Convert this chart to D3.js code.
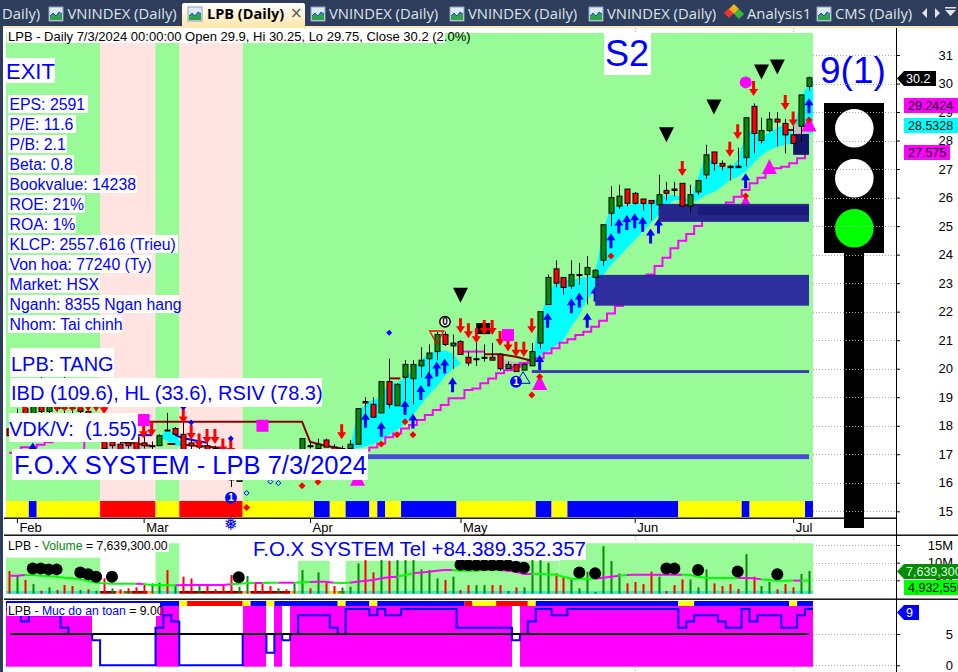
<!DOCTYPE html>
<html><head><meta charset="utf-8">
<style>html,body{margin:0;padding:0;background:#fff;overflow:hidden}svg{display:block}text{font-family:"Liberation Sans",Arial,sans-serif;white-space:pre}</style>
<script src="https://cdn.jsdelivr.net/npm/d3@7"></script>
</head><body><svg id="c" width="958" height="672"></svg>
<script>
// ---------- data (oldest bar first) ----------
const candles=[[17.89,18.2,17.6,17.65],[18,18.6,17.9,18.4],[18.6,18.9,18.3,18.4],[18.4,18.8,18.1,18.7],[18.7,19.7,18.4,18.5],[18.5,19,18.3,18.9],[18.9,19.2,18.5,18.6],[18.6,19.7,18.4,19],[19,19.2,18.4,18.6],[18.6,18.9,18.3,18.5],[18.5,18.7,18.1,18.2],[18.2,18.4,17.8,18],[18,18.2,17.1,17.2],[17.7,17.8,17.2,17.3],[17.35,17.5,17.1,17.15],[17.4,17.5,17.2,17.3],[17.6,17.7,17.1,17.15],[17.4,17.8,17.2,17.3],[17.3,17.45,17.1,17.3],[17.3,17.7,17.3,17.65],[17.85,18.45,17.85,17.85],[17.9,17.95,17.65,17.7],[17.7,18.5,17,17.15],[17.4,17.5,17.1,17.3],[17.3,17.7,17,17.25],[17.3,17.4,16.9,17.1],[17.2,17.3,16.9,17.1],[17.1,17.2,16.8,16.9],[17.15,17.15,15.85,16.1],[16.05,16.4,16.05,16.3],[16.3,16.6,16.2,16.5],[16.5,16.7,16.4,16.6],[16.6,16.8,16.5,16.7],[16.8,16.9,16.6,16.65],[16.6,16.9,16.5,16.85],[16.8,17,16.7,16.95],[16.95,17.1,16.8,17.05],[17.15,17.55,17.1,17.55],[17.3,17.45,17.2,17.3],[17.2,17.55,17.2,17.35],[17.5,17.55,17.25,17.25],[17.25,17.35,17.1,17.15],[17.2,17.3,17.1,17.15],[17.2,17.5,17.2,17.35],[17.35,18.6,17.35,18.6],[18.85,19,18.35,18.8],[18.75,19,18.3,18.3],[18.45,19.55,18.45,19.55],[19.55,20.35,18.6,18.75],[18.7,19.5,18.7,19.45],[19.7,20.3,18.9,20.15],[19.65,20.3,18.75,20.15],[20.1,20.75,19.7,20.3],[20.35,20.85,19.8,20.55],[20.6,21.3,20.3,21.2],[21.2,21.3,20.8,20.85],[20.8,21.2,20,20.9],[20.95,21,20.5,20.5],[20.4,20.6,20.1,20.2],[20.35,20.9,20.1,20.35],[20.4,20.85,20.25,20.4],[20.4,20.9,20.3,20.3],[20.5,20.55,19.93,20],[20,20.25,20,20.15],[20.15,20.15,19.9,19.9],[19.95,20.2,19.95,20.15],[20.1,20.9,20.1,20.6],[20.9,22,20.7,22],[22.25,23.3,22.25,23.2],[23.5,23.8,22.85,23],[23.2,23.2,22.6,22.85],[22.9,23.8,22.8,23.3],[23.3,23.7,22.95,23.3],[23.3,23.95,22.25,23.55],[23.2,23.5,23.2,23.45],[23.8,25.05,23.6,25.05],[25.45,26.4,25,26],[25.7,26.45,25.6,26.05],[26.3,26.3,25.7,25.8],[26.15,26.2,25.75,25.8],[25.95,25.95,25.55,25.8],[25.9,25.9,25.2,25.8],[25.75,26.8,25.6,26.1],[26.25,26.55,25.9,26.15],[26.3,26.55,26.05,26.25],[26.5,26.5,25.7,25.7],[25.7,26.45,25.45,26.1],[26.2,26.6,26.1,26.6],[26.8,27.85,26.65,27.5],[27.6,27.6,26.95,27.2],[27.2,27.3,26.95,27.1],[27.1,27.15,26.6,27.05],[27.1,27.75,27.05,27.05],[27.4,28.8,27.1,28.8],[29.2,29.3,27.55,28.25],[28,28.8,27.9,28.35],[28.35,29,28.3,28.75],[28.75,29,27.8,28.65],[28.6,28.75,27.55,28.2],[28.2,28.5,27.9,27.9],[28.5,29.6,27.95,29.6],[29.9,30.25,29.75,30.2]];
const stopLine=[17.05,17.05,17.25,17.25,17.33,17.42,17.7,17.7,17.7,17.7,17.1,17,17,16.9,16.9,16.8,16.8,16.7,16.7,16.6,16.6,16.5,16.5,16.5,16.5,16.5,16.5,16.5,16.5,16.5,16.5,16.5,16.5,16.6,16.6,16.6,16.7,16.7,16.7,16.8,16.8,16.8,16.9,16.9,17,17.13,17.24,17.38,17.6,17.73,17.9,18.03,18.2,18.38,18.55,18.73,18.96,18.96,19.25,19.31,19.49,19.66,19.84,19.95,20.07,20.2,20.28,20.37,20.54,20.72,20.91,21.03,21.18,21.3,21.47,21.68,21.94,22.2,22.58,22.82,23.05,23.3,23.6,23.89,24.22,24.49,24.72,25,25.33,25.5,25.68,25.83,26.03,26.27,26.5,26.7,26.97,27.03,27.08,27.2,27.38,27.6];
const cyanBand=[[19,17.62,17.62],[20,17.85,17.45],[21,17.73,17.32],[22,17.27,17.27],null,[43,17.2,17.18],[44,18.43,17.2],[45,18.78,17.27],[46,18.9,17.36],[47,19.02,17.5],[48,19.55,17.68],[49,19.49,17.85],[50,19.72,18.08],[51,19.95,18.38],[52,20.3,18.73],[53,20.54,19.08],[54,20.6,19.37],[55,20.65,19.72],[56,20.54,20],[57,20.18,20.16],null,[66,20.3,20.3],[67,21.7,20.45],[68,22.64,20.6],[69,23.05,20.8],[70,23.11,21],[71,23.1,21.47],[72,23.17,21.88],[73,23.23,22.41],[74,23.29,22.76],[75,24.86,23.28],[76,25.68,23.64],[77,25.74,23.93],[78,25.74,24.22],[79,25.78,24.51],[80,25.78,24.8],[81,25.8,25.1],[82,25.97,25.39],[83,26.09,25.68],[84,26.09,25.92],[85,26.03,25.92],[86,25.92,25.8],[87,26.73,25.92],[88,27.49,26.09],[89,27.2,26.2],[90,27.08,26.38],[91,27.03,26.62],[92,27.32,26.73],[93,28.25,26.91],[94,28.37,27.2],[95,28.08,27.49],[96,28.31,27.67],[97,28.43,27.79],[98,28.58,27.84],[99,28.25,27.9],[100,29.54,28.14],[101,30,28.25],[101.5,30.1,28.25]];
const grayBand=[[12,17.4,17.15],[14,17.37,17.15],[16,17.35,17.15],[18,17.3,17.2],null,[62,20.35,20.05],[63,20.3,20],[64,20.25,19.95],[65,20.2,20.1],[66,20.2,20.2],null,[99,28.55,28.2],[100.9,28.6,28.2]];
const darkRedSegs=[[[17,18.14],[37,18.14],[38,17.44],[39,17.36],[40,17.3],[42,17.2]],[[14,17.42],[16,17.38],[18,17.29]],[[20,17.36],[21,17.36]],[[22,17.33],[26,17.25],[27,17.2]],[[48,19.66],[49.4,19.66]],[[60,20.51],[62,20.51],[64,20.42],[66,20.28]],[[98,28.37],[99,28.37]]];
const blueSegs=[[[16,17.67],[18,17.67]],[[21,17.67],[22,17.56],[25,17.4]]];
const magentaSegs=[[[57,20.6],[60,20.6]]];
const upArrows=[[68,21.96],[71,22.47],[72,22.67],[73,21.96],[74,22.88],[76,24.75],[77,25.27],[78,25.39],[79,25.45],[80,25.33],[81,24.92],[82,25.27],[93,26.85],[101,29.48],[67,20.48],[45,18.46],[47,18.14],[50,18.9],[51,18.43],[52,19.43],[53,19.9],[54,20.25],[55,20.36],[56,19.7],[3,17.41]];
const downArrows=[[66,21.24],[94,29.56],[98,29.07],[99,28.49],[92,28.05],[91,27.43],[85,26.76],[57,21.24],[58,21.07],[59,20.89],[60,21.18],[61,21.18],[62,20.8],[63,20.6],[64,20.42],[65,20.42],[42,17.53],[17,17.56],[18,17.62],[22,18.08],[23,17.5],[24,17.2],[25,17.36],[26,17.36],[27,17.03],[28,16.97],[2,18.49],[6,18.49],[7,18.49],[8,18.49],[9,18.49],[10,18.49],[11,18.49],[12,18.4]];
const redDiamonds=[[76,23.95],[93,26.06],[101,28.72],[67,19.72],[66,19.08],[37,15.9],[39,16.03],[30,15.13],[47,17.36],[49,17.68],[50,18.14],[51,17.68]];
const blueDiamonds=[[48,21.26],[23,18.11],[28,17.55],[22,18.65]];
const hollowDiamonds=[[30,15.64],[33,16.04],[34,15.99]];
const blackTriangles=[[57,22.58],[83,28.2],[89,29.18],[95,30.4],[97,30.58]];
const magentaTriangles=[[96,27.35],[101,28.84],[93,26.09],[67,19.78],[44,16.42]];
const magentaSquares=[[17,18.2],[32,18],[63,21.18]];
const magentaDots=[[93,30.04]];
const zones=[[74,101,23.29,22.21,"#2e2e9e"],[82,101,25.78,25.15,"#26268c"],[87,101,25.7,25.38,"#1a1a7a"],[99,101,28.23,27.5,"#15156b"],[66,101,19.95,19.85,"#3a3ab5"],[45,101,17,16.83,"#4a4ad8"]];
const stripRuns=[[0,3,"y"],[3,4,"b"],[4,12,"y"],[12,19,"r"],[19,22,"y"],[22,30,"r"],[30,39,"y"],[39,41,"b"],[41,43,"y"],[43,46,"b"],[46,47,"y"],[47,48,"b"],[48,50,"y"],[50,57,"b"],[57,67,"y"],[67,69,"b"],[69,71,"y"],[71,85,"b"],[85,93,"y"],[93,94,"b"],[94,101,"y"],[101,102,"b"]];
const pinkRuns=[[12,19],[22,30]];
const monthTicks=[[1,"Feb"],[17,"Mar"],[38,"Apr"],[57,"May"],[79,"Jun"],[99,"Jul"]];
const priceTicks=[15,16,17,18,19,20,21,22,23,24,25,26,27,28,29,30,31];
const volumes=[7.63,6.5,5.09,3.95,2.07,3.01,2.26,3.67,3.39,2.26,2.45,2.07,5.56,2.73,2.45,2.73,3.01,3.67,4.14,4.33,7.91,3.39,6.03,5.56,3.48,3.67,2.45,3.86,6.5,3.2,6.2,4.14,3.95,3.39,2.73,2.45,4.14,7.91,2.73,7.25,4.33,3.39,3.01,3.2,9.79,10.74,7.25,10.74,10.55,10.74,10.74,10.74,8.1,7.91,5.56,5.09,6.03,2.26,3.67,3.67,3.67,3.67,3.67,1.98,3.01,3.01,10.74,10.74,9.98,6.97,5.84,5.27,2.73,7.44,1.69,14.69,10.45,6.97,4.14,4.52,3.95,7.44,6.03,1.98,3.67,5.27,5.27,3.01,8.1,4.14,3.39,3.95,2.54,12.43,6.03,3.39,4.6,2.45,3.95,3.01,6.78,7.64];
const volDirs="rgrgrgrrrgrgrgrrrrggrgrrgrrrrggrrrgrggrgrrgggrrgrggggggrgrrg"+"grrgrggggrrgggggggrrrrgrrrgggrrrrgrggrrrgg";
const volMA=[6.31,6.31,6.5,6.5,6.31,6.2,6.03,5.74,5.56,5.27,4.9,4.33,4.14,4.05,4.05,4.05,4.05,3.95,3.67,3.67,3.58,3.58,3.67,3.67,3.67,3.67,3.67,3.67,3.86,4.05,4.14,4.24,4.24,4.33,4.33,4.33,4.33,4.43,4.5,4.6,4.6,4.33,4.24,4.33,4.6,4.9,5.09,5.56,5.84,6.03,6.5,6.97,7.25,7.44,7.72,7.91,7.91,7.72,7.72,7.72,7.91,7.91,7.91,7.72,7.44,6.78,6.78,6.78,6.69,6.59,6.03,5.46,5.46,5.46,5.46,5.74,6.03,6.31,6.5,6.59,6.59,6.59,6.59,6.59,6.59,6.59,6.5,6.03,5.74,5.65,5.65,5.65,5.65,5.65,5.56,5.27,5.09,4.9,4.9,4.93,4.93,4.93];
const volMARuns=[[0,2,"m"],[2,16,"g"],[16,17,"m"],[17,21,"g"],[21,28,"m"],[28,31,"g"],[31,32,"m"],[32,34,"g"],[34,36,"m"],[36,38,"g"],[38,41,"m"],[41,43,"g"],[43,49,"m"],[49,51,"g"],[51,56,"m"],[56,62,"g"],[62,66,"m"],[66,74,"g"],[74,77,"m"],[77,78,"g"],[78,85,"m"],[85,92,"g"],[92,95,"m"],[95,99,"g"],[99,100,"m"],[100,101,"g"]];
const volDots=[[3,8.38],[4,8.38],[5,8.1],[6,8.1],[9,7.25],[10,6.7],[11,6.03],[13,6.03],[29,5.84],[57,9.4],[58,9.3],[59,9.3],[60,9.3],[61,9.3],[62,9.3],[63,9.3],[64,8.85],[65,8.57],[72,7.25],[74,6.97],[83,8.38],[84,8.38],[87,7.9],[92,7.53],[97,6.7]];
const volBgRuns=[[0,12,11.4],[19,22,15.5],[37,41,10.5],[43,70,10.5],[70,102,15.5]];
const volStripRuns=[[0,12,"#40e0d0"],[12,14,"#8b0000"],[14,15,"#f4a460"],[15,16,"#228b22"],[16,18,"#8b0000"],[18,19,"#f4a460"],[19,22,"#40e0d0"],[22,30,"#8b0000"],[30,31,"#f4a460"],[31,36,"#8b0000"],[36,37,"#f4a460"],[37,41,"#40e0d0"],[41,42,"#ffd700"],[42,43,"#6b8e23"],[43,102,"#40e0d0"]];
const volTicks=[5,10,15];
const safety=[9,9,7,8,8,8,8,6,5,5,5,4,0,0,0,0,0,0,0,6,8,7,0,0,0,0,0,0,0,0,5,5,5,2,5,4,5,8,8,8,8,6,5,9,9,9,8,9,8,8,9,9,9,9,9,9,9,6,6,6,6,6,6,6,4,5,7,9,9,8,8,9,9,9,9,9,9,9,9,9,9,9,9,9,9,6,7,8,8,8,7,6,6,9,7,8,8,8,6,6,8,9];
const safetyRuns=[[0,22,"b"],[22,23,"y"],[23,30,"r"],[30,31,"y"],[31,33,"b"],[33,34,"y"],[34,42,"b"],[42,43,"y"],[43,46,"b"],[46,47,"y"],[47,58,"b"],[58,59,"r"],[59,62,"y"],[62,66,"r"],[66,67,"y"],[67,85,"b"],[85,87,"y"],[87,99,"b"],[99,100,"y"],[100,102,"b"]];
const safetyTicks=[0,5];
const statLines=["EPS: 2591","P/E: 11.6","P/B: 2.1","Beta: 0.8","Bookvalue: 14238","ROE: 21%","ROA: 1%","KLCP: 2557.616 (Trieu)","Von hoa: 77240 (Ty)","Market: HSX","Nganh: 8355 Ngan hang","Nhom: Tai chinh"];
const tabs=[[2,"Daily)"],[67.5,"VNINDEX (Daily)"],[329,"VNINDEX (Daily)"],[468,"VNINDEX (Daily)"],[607,"VNINDEX (Daily)"],[747,"Analysis1"],[835,"CMS (Daily)"]];
const tabIcons=[49,311,450,589,817];

// ---------- scales ----------
const x=d3.scaleLinear().domain([0,101]).range([9,809]);
const band=n=>x(n)-3.96;
const y=d3.scaleLinear().domain([15,31]).range([511.3,55]);
const yV=d3.scaleLinear().domain([0,15]).range([598,545]);
const yS=d3.scaleLinear().domain([0,9]).range([665.3,609]);
const svg=d3.select("#c");
const COL={y:"#ffff00",b:"#0000ff",r:"#ff0000"};
const RED="#ff0000",GRN="#078a07",BLU="#0000ff",MAG="#ff00ff";

svg.append("rect").attr("width",958).attr("height",672).attr("fill","#fff");

// ---------- main backgrounds ----------
const main=svg.append("g");
main.append("rect").attr("x",6).attr("y",33).attr("width",807).attr("height",468).attr("fill","#98fb98");
main.selectAll(null).data(pinkRuns).join("rect").attr("x",d=>band(d[0])).attr("width",d=>band(d[1])-band(d[0])).attr("y",33).attr("height",468).attr("fill","#ffe4e1");
main.selectAll(null).data(stripRuns).join("rect").attr("x",d=>Math.max(6,band(d[0]))).attr("width",d=>band(d[1])-Math.max(6,band(d[0]))).attr("y",501).attr("height",16).attr("fill",d=>COL[d[2]]);

// ---------- bands and lines ----------
const areaG=d3.area().defined(d=>d).x(d=>x(d[0])).y0(d=>y(d[2])).y1(d=>y(d[1]));
main.append("path").attr("d",areaG(cyanBand)).attr("fill","#00ffff");
main.append("path").attr("d",areaG(grayBand)).attr("fill","#c0c0c0");
const stepL=d3.line().x((d,i)=>x(i)).y(d=>y(d)).curve(d3.curveStep);
main.append("path").attr("d",stepL(stopLine)).attr("fill","none").attr("stroke",MAG).attr("stroke-width",2);
const segL=d3.line().x(d=>x(d[0])).y(d=>y(d[1]));
const drawSegs=(s,c)=>main.selectAll(null).data(s).join("path").attr("d",segL).attr("fill","none").attr("stroke",c).attr("stroke-width",2);
drawSegs(magentaSegs,MAG);drawSegs(blueSegs,BLU);drawSegs(darkRedSegs,"#8b0000");

// ---------- markers ----------
const arrowUp=(px,py)=>`M${px} ${py}l4.5 7h-3v8h-3v-8h-3z`;
const arrowDn=(px,py)=>`M${px} ${py}l4.5 -7h-3v-8h-3v8h-3z`;
main.selectAll(null).data(upArrows).join("path").attr("d",d=>arrowUp(x(d[0]),y(d[1]))).attr("fill",BLU);
main.selectAll(null).data(magentaTriangles).join("path").attr("d",d=>`M${x(d[0])} ${y(d[1])}l7.5 15h-15z`).attr("fill",MAG);
main.selectAll(null).data(zones).join("rect").attr("x",d=>x(d[0])).attr("width",d=>x(d[1])-x(d[0])).attr("y",d=>y(d[2])).attr("height",d=>y(d[3])-y(d[2])).attr("fill",d=>d[4]);

// ---------- candles ----------
const cg=main.append("g");
cg.selectAll(null).data(candles).join("line").attr("x1",(d,i)=>Math.round(x(i))+.5).attr("x2",(d,i)=>Math.round(x(i))+.5).attr("y1",d=>y(d[1])).attr("y2",d=>y(d[2])).attr("stroke","#000");
cg.selectAll(null).data(candles).join("rect").attr("x",(d,i)=>Math.round(x(i))-2).attr("width",5)
 .attr("y",d=>y(Math.max(d[0],d[3]))).attr("height",d=>Math.max(1,Math.abs(y(d[0])-y(d[3]))))
 .attr("fill",d=>d[3]>d[0]?GRN:RED).attr("stroke","#000").attr("stroke-width",1);

// ---------- upper markers ----------
main.append("rect").attr("x",x(60)-8).attr("y",y(21.6)).attr("width",14).attr("height",11).attr("fill","#000");
main.selectAll(null).data(downArrows).join("path").attr("d",d=>arrowDn(x(d[0]),y(d[1]))).attr("fill",RED);
main.selectAll(null).data(blackTriangles).join("path").attr("d",d=>`M${x(d[0])-7.5} ${y(d[1])-7.5}h15l-7.5 15z`).attr("fill","#000");
const diamond=(n,p,r)=>`M${x(n)} ${y(p)-r}l${r} ${r}l${-r} ${r}l${-r} ${-r}z`;
main.selectAll(null).data(redDiamonds).join("path").attr("d",d=>diamond(d[0],d[1],3.5)).attr("fill",RED);
main.selectAll(null).data(blueDiamonds).join("path").attr("d",d=>diamond(d[0],d[1],3)).attr("fill",BLU);
main.selectAll(null).data(hollowDiamonds).join("path").attr("d",d=>diamond(d[0],d[1],2.5)).attr("fill","none").attr("stroke",BLU);
main.selectAll(null).data(magentaSquares).join("rect").attr("x",d=>x(d[0])-6).attr("y",d=>y(d[1])-6).attr("width",12).attr("height",12).attr("fill",MAG);
main.selectAll(null).data(magentaDots).join("circle").attr("cx",d=>x(d[0])).attr("cy",d=>y(d[1])).attr("r",6).attr("fill",MAG);
// numbered pattern badges
main.append("path").attr("d",`M${x(64.9)-7} 371.7m7 0l7 11.6h-14z`).attr("fill","none").attr("stroke",BLU);
main.append("path").attr("d",`M429.7 331h14l-7 13z`).attr("fill","none").attr("stroke",RED).attr("stroke-width",1.3);
const badge=(bx,by,fill,stroke,txt,tc)=>{main.append("circle").attr("cx",bx).attr("cy",by).attr("r",5.2).attr("fill",fill).attr("stroke",stroke).attr("stroke-width",1.5);
 main.append("text").attr("x",bx).attr("y",by+3.6).attr("text-anchor","middle").attr("font-size",10).attr("font-weight","bold").attr("fill",tc).text(txt);};
badge(516,381.7,BLU,BLU,"1","#fff");badge(231,497.7,BLU,BLU,"1","#fff");badge(445,321.7,"#fff","#000","0","#000");
main.append("text").attr("x",231).attr("y",530).attr("text-anchor","middle").attr("font-size",17).attr("fill",BLU).style("font-family","DejaVu Sans").text("❅");

// ---------- white-box labels ----------
const boxLabel=(bx,by,bw,bh,tx,ty,fs,t,col)=>{svg.append("rect").attr("x",bx).attr("y",by).attr("width",bw).attr("height",bh).attr("fill","#fff");
 return svg.append("text").attr("x",tx).attr("y",ty).attr("font-size",fs).attr("fill",col||BLU).text(t);};
boxLabel(7,29,438,14,8,40.5,13,"LPB - Daily 7/3/2024 00:00:00 Open 29.9, Hi 30.25, Lo 29.75, Close 30.2 (2.0%)","#000");
boxLabel(6,58,49,25,6,79,22,"EXIT");
boxLabel(604,33,47,42,605,66,36,"S2");
statLines.forEach((t,i)=>{const w=[80,68,59,66,129,77,68,170,144,92,171,114][i];boxLabel(8,95+i*20,w,18,9.5,110+i*20,15.8,t);});
boxLabel(10,348,104,29,11,371,20,"LPB: TANG");
boxLabel(10,378,312,29,11,400,20,"IBD (109.6), HL (33.6), RSIV (78.3)");
boxLabel(9,413,129,29,9,436,20,"VDK/V:  (1.55)");
boxLabel(12,449,356,31,14,474,25.5,"F.O.X SYSTEM - LPB 7/3/2024");
svg.append("text").attr("x",820).attr("y",83).attr("font-size",37).attr("fill",BLU).text("9(1)");

// ---------- traffic light ----------
const light=svg.append("g");
light.append("rect").attr("x",844).attr("y",253).attr("width",20).attr("height",275).attr("fill","#000");
light.append("rect").attr("x",824).attr("y",103).attr("width",60).attr("height",150).attr("fill","#000");
light.selectAll(null).data([[128.3,"#fff"],[178.3,"#fff"],[228.3,"#00ff00"]]).join("circle").attr("cx",854.3).attr("cy",d=>d[0]).attr("r",19.3).attr("fill",d=>d[1]);

// ---------- volume pane ----------
const vp=svg.append("g");
vp.selectAll(null).data(volBgRuns).join("rect").attr("x",d=>Math.max(6,band(d[0]))).attr("width",d=>band(d[1])-Math.max(6,band(d[0]))).attr("y",d=>yV(d[2])).attr("height",d=>593.7-yV(d[2])).attr("fill","#98fb98");
vp.selectAll(null).data(volStripRuns).join("rect").attr("x",d=>Math.max(6,band(d[0]))).attr("width",d=>band(d[1])-Math.max(6,band(d[0]))).attr("y",591).attr("height",2.7).attr("fill",d=>d[2]);
vp.selectAll(null).data(volumes).join("rect").attr("x",(d,i)=>Math.round(x(i))-.5).attr("width",2).attr("y",d=>yV(d)).attr("height",d=>593.7-yV(d)).attr("fill",(d,i)=>volDirs[i]==="r"?RED:GRN);
volMARuns.forEach(r=>{const idx=d3.range(r[0],Math.min(r[1]+1,102));
 vp.append("path").attr("d",d3.line().x(i=>x(i)).y(i=>yV(volMA[i]))(idx)).attr("fill","none").attr("stroke",r[2]==="m"?MAG:"#00ff00").attr("stroke-width",2);});
vp.selectAll(null).data(volDots).join("circle").attr("cx",d=>x(d[0])).attr("cy",d=>yV(d[1])).attr("r",6).attr("fill","#000");
const vl=boxLabel(7,538,162,14,8,549.5,12.2,"LPB - ","#000");
vl.append("tspan").attr("fill","#078a07").text("Volume");vl.append("tspan").text(" = 7,639,300.00");
boxLabel(245,538,341,22,253,556,20.5,"F.O.X SYSTEM Tel +84.389.352.357");

// ---------- safety pane ----------
const sp=svg.append("g");
sp.selectAll(null).data(safetyRuns).join("rect").attr("x",d=>Math.max(6,band(d[0]))).attr("width",d=>band(d[1])-Math.max(6,band(d[0]))).attr("y",601).attr("height",5).attr("fill",d=>COL[d[2]]);
sp.selectAll(null).data(safety).join("rect").attr("x",(d,i)=>Math.round(Math.max(6,band(i)))).attr("width",(d,i)=>Math.round(band(i+1))-Math.round(Math.max(6,band(i)))).attr("y",606).attr("height",60.7).attr("fill",d=>d>=5?MAG:"none");
sp.append("path").attr("d",d3.line().x((d,i)=>Math.max(6,band(i))).y(d=>yS(d)).curve(d3.curveStepAfter)(safety.concat([safety[101]]))).attr("fill","none").attr("stroke",BLU).attr("stroke-width",2);
sp.append("line").attr("x1",10).attr("x2",809).attr("y1",yS(5)).attr("y2",yS(5)).attr("stroke","#000").attr("stroke-width",2);
const sl=boxLabel(7,603,153,13,8,614.5,12.2,"LPB - ","#000");
sl.append("tspan").attr("fill",BLU).text("Muc do an toan");sl.append("tspan").text(" = 9.00");

// ---------- axes ----------
const dotted=(g,vals,sc)=>g.selectAll(null).data(vals).join("line").attr("x1",813).attr("x2",896).attr("y1",d=>Math.round(sc(d))+.5).attr("y2",d=>Math.round(sc(d))+.5).attr("stroke","#aaa").attr("stroke-dasharray","1,2");
const ax=svg.append("g");
dotted(ax,priceTicks,y);dotted(ax,volTicks,yV);dotted(ax,safetyTicks,yS);
const styleAxis=g=>{g.select(".domain").remove();g.selectAll(".tick line").attr("stroke","#000");
 g.selectAll(".tick text").attr("x",57).attr("text-anchor","end").attr("font-size",13).attr("fill","#000").style("font-family","Liberation Sans");};
ax.append("g").attr("transform","translate(896,0)").call(d3.axisRight(y).tickValues(priceTicks).tickSize(4).tickFormat(d3.format("d"))).call(styleAxis);
ax.append("g").attr("transform","translate(896,0)").call(d3.axisRight(yV).tickValues(volTicks).tickSize(4).tickFormat(d=>d+"M")).call(styleAxis);
ax.append("g").attr("transform","translate(896,0)").call(d3.axisRight(yS).tickValues(safetyTicks).tickSize(4).tickFormat(d3.format("d"))).call(styleAxis);
const xa=ax.append("g").attr("transform","translate(0,518)").call(d3.axisBottom(x).tickValues(monthTicks.map(d=>d[0])).tickSize(5).tickFormat(n=>monthTicks.find(d=>d[0]===n)[1]));
xa.select(".domain").remove();xa.selectAll(".tick line").attr("stroke","#000");
xa.selectAll(".tick text").attr("x",2).attr("y",5).attr("dy",".71em").attr("text-anchor","start").attr("font-size",13).attr("fill","#000").style("font-family","Liberation Sans");
[[518,4,896],[535,4,958],[599,4,958]].forEach(l=>ax.append("rect").attr("x",l[1]).attr("y",l[0]-.5).attr("width",l[2]-l[1]).attr("height",1.4).attr("fill","#000"));
ax.append("rect").attr("x",896).attr("y",28).attr("width",1).attr("height",644).attr("fill","#000");
// vertical month grid stubs
monthTicks.slice(4).forEach(m=>{[[28,33],[536,541],[667,672]].forEach(s=>ax.append("line").attr("x1",x(m[0])+.5).attr("x2",x(m[0])+.5).attr("y1",s[0]).attr("y2",s[1]).attr("stroke","#aaa").attr("stroke-dasharray","1,2"));});

// ---------- value tags ----------
const tag=(tx,ty,tw,fill,col,txt,point)=>{
 const g=svg.append("g");
 if(point)g.append("path").attr("d",`M897 ${ty+7.5}l7 -7.5h${tw-7}v15h${-(tw-7)}z`).attr("fill",fill);
 else g.append("rect").attr("x",tx).attr("y",ty).attr("width",tw).attr("height",15).attr("fill",fill);
 g.append("text").attr("x",point?906:tx+4).attr("y",ty+12).attr("font-size",12.5).attr("fill",col).text(txt);};
tag(897,71,39,"#000","#fff","30.2",true);
tag(904,98,54,MAG,"#000","29.2424");
tag(904,118,54,"#00ffff","#000","28.5328");
tag(904,145,46,MAG,"#000","27.575");
tag(897,564,61,"#078a07","#d8ffd8","7,639,300",true);
tag(904,580,54,"#00ff00","#000","4,932,555");
tag(897,605,22,BLU,"#fff","9",true);

// ---------- window chrome ----------
svg.append("rect").attr("x",0).attr("y",0).attr("width",958).attr("height",26).attr("fill","#2d3d5b");
svg.append("rect").attr("x",0).attr("y",26).attr("width",958).attr("height",2).attr("fill","#fbe9b8");
svg.append("rect").attr("x",0).attr("y",26).attr("width",3).attr("height",646).attr("fill","#2d3d5b");
const defs=svg.append("defs");
const lg=defs.append("linearGradient").attr("id","tabg").attr("x1",0).attr("x2",0).attr("y1",0).attr("y2",1);
lg.append("stop").attr("offset",0).attr("stop-color","#ffffff");lg.append("stop").attr("offset",1).attr("stop-color","#fde6a8");
svg.append("rect").attr("x",182).attr("y",3).attr("width",123).attr("height",24).attr("rx",2).attr("fill","url(#tabg)");
const icon=(ix)=>{const g=svg.append("g").attr("transform",`translate(${ix},7)`);
 g.append("rect").attr("width",14).attr("height",14).attr("fill","#dfe8f5").attr("stroke","#8aa0c0");
 g.append("path").attr("d","M1 13V9l3-3 3 3 3-4 3 2v6z").attr("fill","#2fa24a");
 g.append("path").attr("d","M1 9l3-3 3 3 3-4 3 2").attr("fill","none").attr("stroke","#1a50c8");};
tabIcons.forEach(icon);icon(188);
svg.selectAll(null).data([[729,13,"#e33"],[734,9,"#f0b020"],[739,14,"#3b3"]]).join("path").attr("d",d=>`M${d[0]} ${d[1]-5}l5 5l-5 5l-5 -5z`).attr("fill",d=>d[2]);
svg.selectAll(null).data(tabs).join("text").attr("x",d=>d[0]).attr("y",19).attr("font-size",14.8).attr("fill","#dfe4ec").style("font-family","Open Sans").text(d=>d[1]);
svg.append("text").attr("x",207).attr("y",19).attr("font-size",14.5).attr("font-weight","bold").attr("fill","#000").style("font-family","Open Sans").text("LPB (Daily)");
svg.append("text").attr("x",290).attr("y",18).attr("font-size",15).attr("fill","#555").style("font-family","DejaVu Sans").text("×");
svg.append("path").attr("d","M922 13l5-5v10zM935 8l5 5l-5 5zM945 10h11l-5.5 6zM945 7h11v1.5h-11z").attr("fill","#dfe4ec");
</script></body></html>
